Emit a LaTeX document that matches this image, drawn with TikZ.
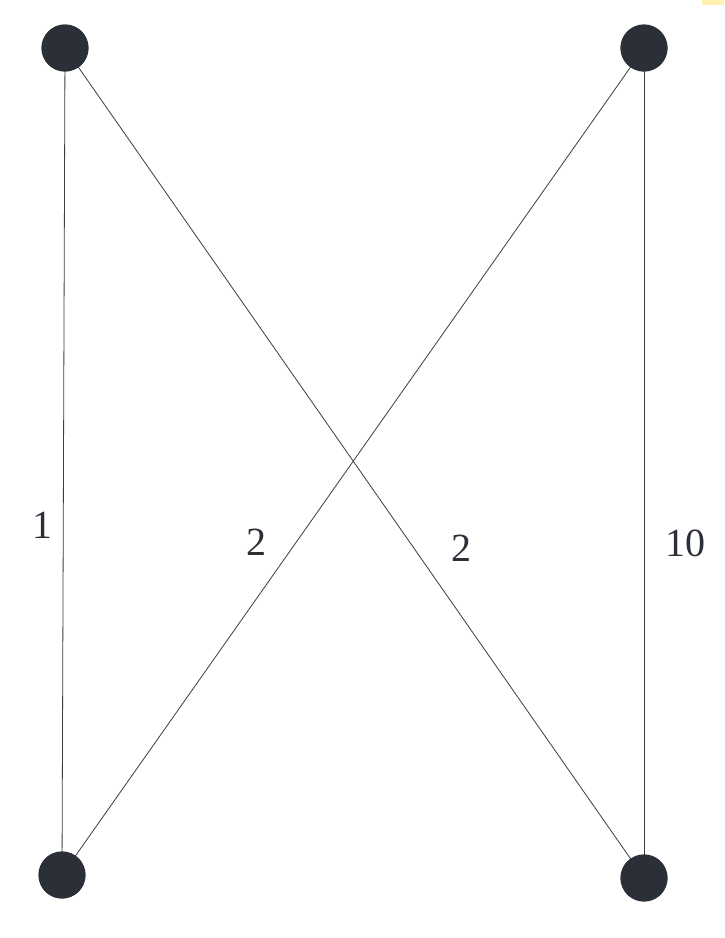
\documentclass[tikz,border=0pt]{standalone}
\usepackage{fontspec}
\setmainfont{Liberation Serif}
\begin{document}
\begin{tikzpicture}[x=1pt,y=-1pt,
  vertex/.style={circle,fill=vfill,draw=none,minimum size=47pt,inner sep=0pt},
  edge/.style={draw=edgec,line width=0.8pt},
  wlabel/.style={font=\fontsize{40}{46}\selectfont,text=labelc,inner sep=0pt}]
\definecolor{vfill}{HTML}{2B2F37}
\definecolor{edgec}{HTML}{3A3D44}
\definecolor{labelc}{HTML}{2B2F37}
\definecolor{notey}{HTML}{FFF1B0}
\useasboundingbox (0,0) rectangle (724,938);
\fill[white] (0,0) rectangle (724,938);
\fill[notey] (702,0) rectangle (724,5);
\node[vertex] (tl) at (65,48) {};
\node[vertex] (tr) at (644,48) {};
\node[vertex] (bl) at (62,875) {};
\node[vertex] (br) at (644,878) {};
\draw[edge] (tl.center) -- (bl.center);
\draw[edge] (tr.center) -- (br.center);
\draw[edge] (tl.center) -- (br.center);
\draw[edge] (tr.center) -- (bl.center);
\node[vertex] at (tl) {};
\node[vertex] at (tr) {};
\node[vertex] at (bl) {};
\node[vertex] at (br) {};
\node[wlabel] (l1) at (42,525) {1};
\node[wlabel] (l2) at (256,542) {2};
\node[wlabel] (l3) at (461,548) {2};
\node[wlabel] (l4) at (685,543) {10};
\end{tikzpicture}
\end{document}
